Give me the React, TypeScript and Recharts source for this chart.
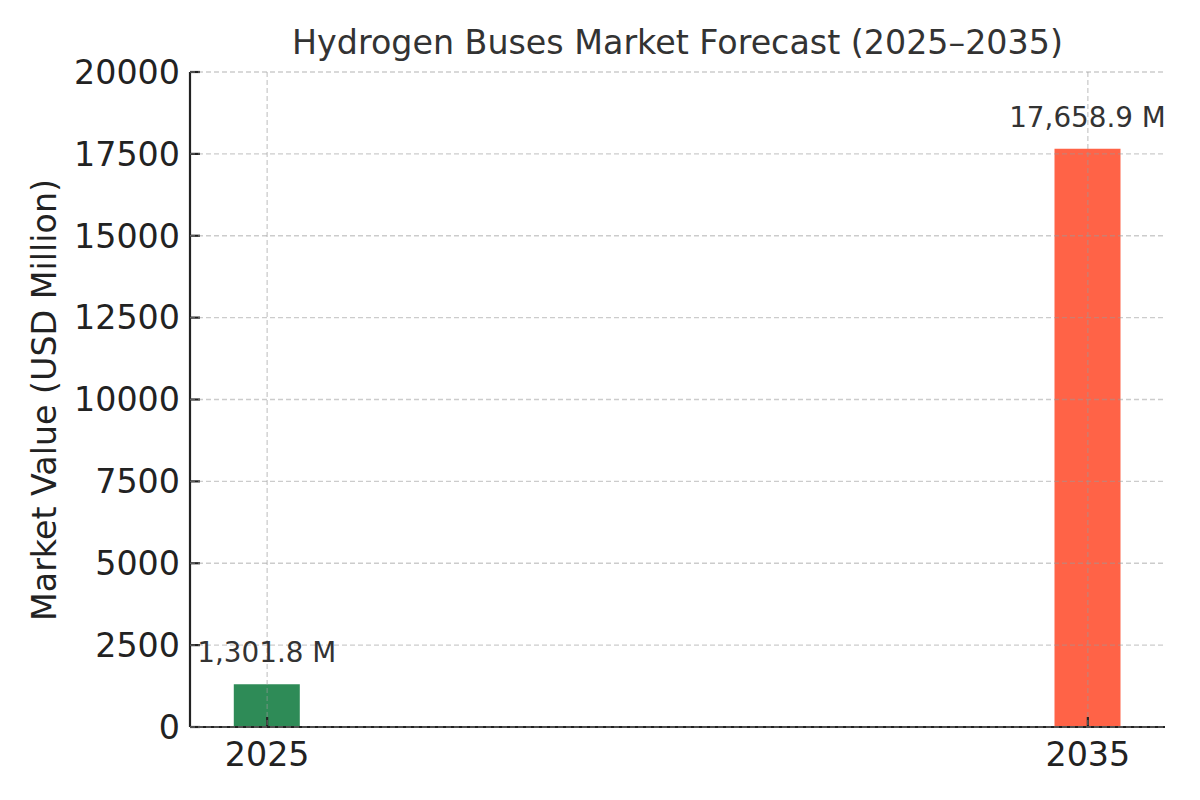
import { BarChart, Bar, XAxis, YAxis, CartesianGrid, Cell, LabelList } from "recharts";

const years = [2025, 2035];
const marketValues = [1301.8, 17658.9];
const barColors = ["#2e8b57", "#ff6347"];
const yTicks = [0, 2500, 5000, 7500, 10000, 12500, 15000, 17500, 20000];

const data = years.map((year, i) => ({ year, value: marketValues[i] }));

const font = "'DejaVu Sans', sans-serif";

const fmt = (v: number) =>
  v.toLocaleString("en-US", { minimumFractionDigits: 1, maximumFractionDigits: 1 }) + " M";

const ValueLabel = (props: any) => {
  const { x, y, width, value } = props;
  return (
    <text
      x={x + width / 2}
      y={y - 22}
      textAnchor="middle"
      fill="#333333"
      fontSize={27.8}
      fontFamily={font}
    >
      {fmt(value)}
    </text>
  );
};

export default function App() {
  return (
    <div style={{ position: "absolute", left: 0, top: 0, width: 1200, height: 800, background: "#fff" }}>
      <div
        style={{
          position: "absolute",
          left: 190,
          width: 975,
          top: 21,
          textAlign: "center",
          fontFamily: font,
          fontSize: 33.3,
          color: "#333333",
          lineHeight: "44px",
        }}
      >
        Hydrogen Buses Market Forecast (2025–2035)
      </div>
      <BarChart
        width={1200}
        height={800}
        data={data}
        margin={{ top: 72, right: 35, left: 0, bottom: 0 }}
        style={{ position: "absolute", left: 0, top: 0 }}
      >
        <XAxis
          dataKey="year"
          type="number"
          domain={[2024.06, 2035.94]}
          ticks={years}
          allowDataOverflow
          height={73}
          tickSize={-10}
          tickMargin={25}
          axisLine={{ stroke: "#222", strokeWidth: 2.2 }}
          tickLine={{ stroke: "#222", strokeWidth: 2.2 }}
          tick={{ fill: "#222", fontSize: 33.3, fontFamily: font }}
        />
        <YAxis
          domain={[0, 20000]}
          ticks={yTicks}
          width={190}
          tickSize={-10}
          tickMargin={20}
          axisLine={{ stroke: "#222", strokeWidth: 2.2 }}
          tickLine={{ stroke: "#222", strokeWidth: 2.2 }}
          tick={{ fill: "#222", fontSize: 33.3, fontFamily: font }}
          label={{
            content: () => (
              <text
                x={44}
                y={400}
                transform="rotate(-90 44 400)"
                textAnchor="middle"
                dominantBaseline="central"
                fill="#222"
                fontSize={33.3}
                fontFamily={font}
              >
                Market Value (USD Million)
              </text>
            ),
          }}
        />
        <Bar dataKey="value" barSize={66} isAnimationActive={false}>
          {data.map((d, i) => (
            <Cell key={d.year} fill={barColors[i]} />
          ))}
          <LabelList dataKey="value" content={ValueLabel} />
        </Bar>
        <CartesianGrid
          stroke="#999"
          strokeOpacity={0.5}
          strokeDasharray="5 3"
          strokeWidth={1.3}
          verticalValues={years}
          horizontalValues={yTicks}
          zIndex={600}
        />
      </BarChart>
    </div>
  );
}
